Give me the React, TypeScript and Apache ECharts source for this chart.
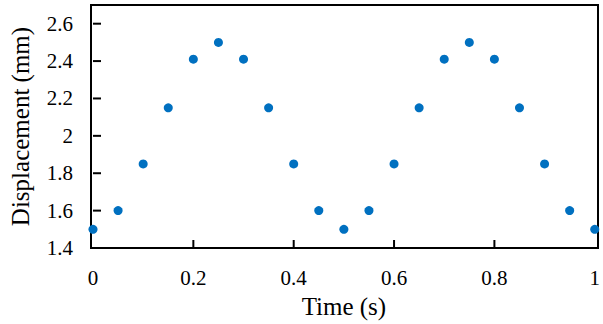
import React, { useEffect, useRef } from "react";
import * as echarts from "echarts";

const times = [0, 0.05, 0.1, 0.15, 0.2, 0.25, 0.3, 0.35, 0.4, 0.45, 0.5, 0.55, 0.6, 0.65, 0.7, 0.75, 0.8, 0.85, 0.9, 0.95, 1];
const displacement = [1.5, 1.6, 1.85, 2.15, 2.41, 2.5, 2.41, 2.15, 1.85, 1.6, 1.5, 1.6, 1.85, 2.15, 2.41, 2.5, 2.41, 2.15, 1.85, 1.6, 1.5];
const xTicks = [0.2, 0.4, 0.6, 0.8];
const yTicks = [1.6, 1.8, 2.0, 2.2, 2.4, 2.6];
const X_MIN = 0;
const X_MAX = 1;
const Y_MIN = 1.4;
const Y_MAX = 2.7;

const FONT = "Liberation Serif";
const W = 603;
const H = 324;
const GRID = { left: 91, right: 5, top: 5, bottom: 76 };
const LW = 2;

export default function App() {
  const ref = useRef<HTMLDivElement>(null);
  useEffect(() => {
    if (!ref.current) return;
    const chart = echarts.init(ref.current, undefined, { renderer: "svg" });
    const gx0 = GRID.left;
    const gx1 = W - GRID.right;
    const gy0 = GRID.top;
    const gy1 = H - GRID.bottom;
    chart.setOption({
      animation: false,
      textStyle: { fontFamily: FONT },
      grid: { ...GRID, show: false },
      graphic: [
        {
          type: "rect",
          z: 0,
          silent: true,
          shape: { x: gx0 - LW / 2, y: gy0 - LW / 2, width: gx1 - gx0 + LW, height: gy1 - gy0 + LW },
          style: { fill: "#000000" },
        },
        {
          type: "rect",
          z: 1,
          silent: true,
          shape: { x: gx0 + LW / 2, y: gy0 + LW / 2, width: gx1 - gx0 - LW, height: gy1 - gy0 - LW },
          style: { fill: "#ffffff" },
        },
      ],
      xAxis: {
        type: "value",
        min: X_MIN,
        max: X_MAX,
        interval: 0.2,
        name: "Time (s)",
        nameLocation: "middle",
        nameGap: 46,
        nameTextStyle: { fontFamily: FONT, fontSize: 25, color: "#000000" },
        axisLine: { show: false },
        axisTick: { show: false },
        splitLine: { show: false },
        axisLabel: { fontFamily: FONT, fontSize: 21, color: "#000000", margin: 19 },
      },
      yAxis: {
        type: "value",
        min: Y_MIN,
        max: Y_MAX,
        interval: 0.2,
        name: "Displacement (mm)",
        nameLocation: "middle",
        nameGap: 60,
        nameTextStyle: { fontFamily: FONT, fontSize: 25, color: "#000000" },
        axisLine: { show: false },
        axisTick: { show: false },
        splitLine: { show: false },
        axisLabel: { fontFamily: FONT, fontSize: 21, color: "#000000", margin: 20, showMaxLabel: false },
      },
      series: [
        {
          type: "scatter",
          silent: true,
          z: 10,
          data: xTicks.map((v) => [v, Y_MIN]),
          symbol: "rect",
          symbolSize: [2, 8],
          symbolOffset: [0, -4],
          itemStyle: { color: "#000000", opacity: 1 },
        },
        {
          type: "scatter",
          silent: true,
          z: 10,
          data: yTicks.map((v) => [X_MIN, v]),
          symbol: "rect",
          symbolSize: [8, 2],
          symbolOffset: [4, 0],
          itemStyle: { color: "#000000", opacity: 1 },
        },
        {
          type: "scatter",
          data: times.map((t, i) => [t, displacement[i]]),
          symbol: "circle",
          symbolSize: 9,
          itemStyle: { color: "#0070C0", opacity: 1 },
          z: 20,
        },
      ],
    });
    return () => chart.dispose();
  }, []);
  return <div ref={ref} style={{ width: W, height: H, position: "absolute", left: 0, top: 0 }} />;
}
